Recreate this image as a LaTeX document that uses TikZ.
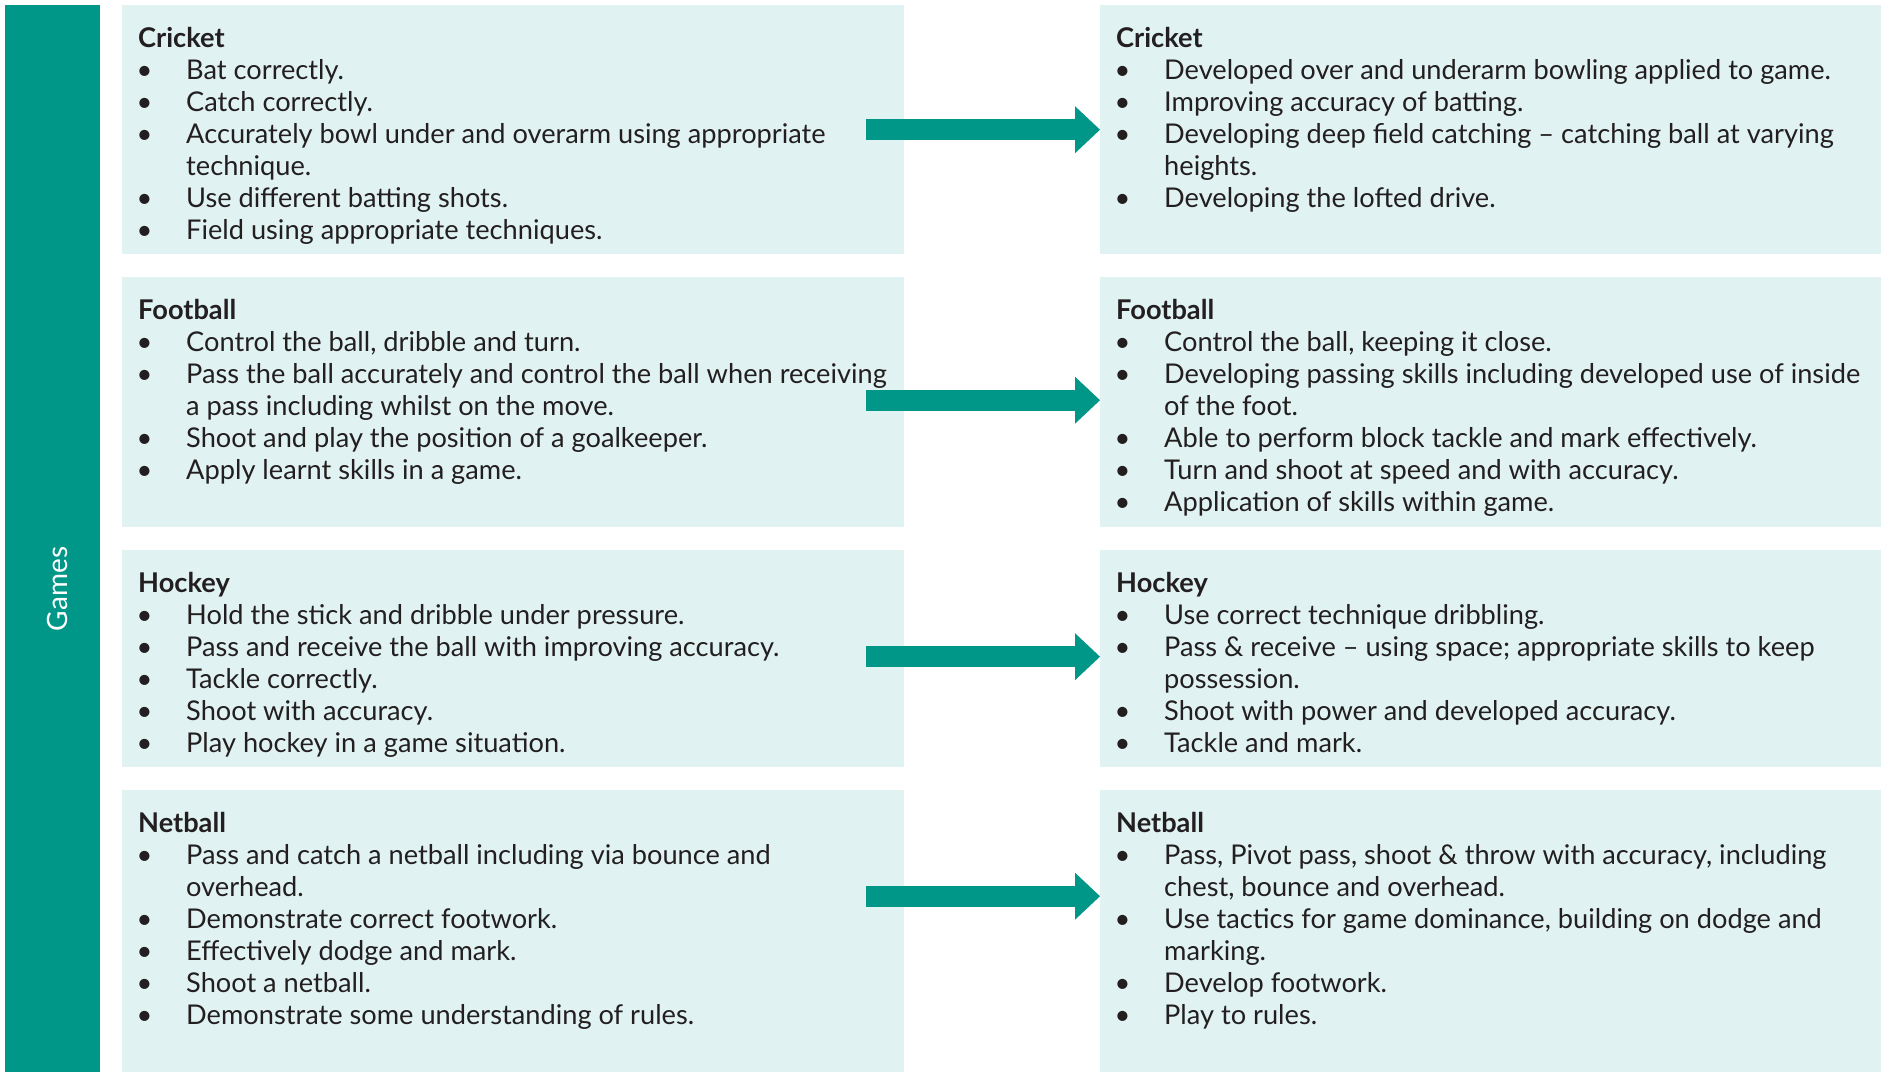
\documentclass[tikz,border=0pt]{standalone}
\usepackage{fontspec}
\setmainfont{Lato}
\usetikzlibrary{arrows.meta}
\definecolor{tealc}{HTML}{009688}
\definecolor{pale}{HTML}{E0F2F1}
\definecolor{ink}{HTML}{231F20}
\newcommand\bu{\makebox[48pt][l]{\hspace{-1.5pt}\textbullet}}
\newcommand\ind{\hspace*{48pt}}
\newcommand\fst{\rule{0pt}{24pt}}
\begin{document}
\begin{tikzpicture}[x=1pt,y=-1pt,
  box/.style={fill=pale,draw=none,anchor=north west,inner sep=0pt},
  txt/.style={anchor=north west,inner sep=0pt,align=left,text=ink,font=\fontsize{27.2}{32}\selectfont},
  flow/.style={draw=tealc,line width=21pt,-{Triangle[length=25pt,width=47pt,line width=0pt]}}]
\useasboundingbox (0,0) rectangle (1881,1072);
% side bar
\node[fill=tealc,anchor=north west,inner sep=0pt,minimum width=95pt,minimum height=1067pt] (bar) at (5,5) {};
\node[rotate=90,text=white,font=\fontsize{28}{32}\selectfont,inner sep=0pt] (games) at (57,589) {Games};
% boxes
\node[box,minimum width=782pt,minimum height=249pt] (L1) at (122,5) {};
\node[box,minimum width=781pt,minimum height=249pt] (R1) at (1100,5) {};
\node[box,minimum width=782pt,minimum height=250pt] (L2) at (122,277) {};
\node[box,minimum width=781pt,minimum height=250pt] (R2) at (1100,277) {};
\node[box,minimum width=782pt,minimum height=217pt] (L3) at (122,550) {};
\node[box,minimum width=781pt,minimum height=217pt] (R3) at (1100,550) {};
\node[box,minimum width=782pt,minimum height=282pt] (L4) at (122,790) {};
\node[box,minimum width=781pt,minimum height=282pt] (R4) at (1100,790) {};
% texts
\node[txt] (tL1) at (138,23) {\fst\textbf{Cricket}\\
\bu Bat correctly.\\
\bu Catch correctly.\\
\bu Accurately bowl under and overarm using appropriate\\
\ind technique.\\
\bu Use different batting shots.\\
\bu Field using appropriate techniques.};
\node[txt] (tR1) at (1116,23) {\fst\textbf{Cricket}\\
\bu Developed over and underarm bowling applied to game.\\
\bu Improving accuracy of batting.\\
\bu Developing deep field catching – catching ball at varying\\
\ind heights.\\
\bu Developing the lofted drive.};
\node[txt] (tL2) at (138,295) {\fst\textbf{Football}\\
\bu Control the ball, dribble and turn.\\
\bu Pass the ball accurately and control the ball when receiving\\
\ind a pass including whilst on the move.\\
\bu Shoot and play the position of a goalkeeper.\\
\bu Apply learnt skills in a game.};
\node[txt] (tR2) at (1116,295) {\fst\textbf{Football}\\
\bu Control the ball, keeping it close.\\
\bu Developing passing skills including developed use of inside\\
\ind of the foot.\\
\bu Able to perform block tackle and mark effectively.\\
\bu Turn and shoot at speed and with accuracy.\\
\bu Application of skills within game.};
\node[txt] (tL3) at (138,568) {\fst\textbf{Hockey}\\
\bu Hold the stick and dribble under pressure.\\
\bu Pass and receive the ball with improving accuracy.\\
\bu Tackle correctly.\\
\bu Shoot with accuracy.\\
\bu Play hockey in a game situation.};
\node[txt] (tR3) at (1116,568) {\fst\textbf{Hockey}\\
\bu Use correct technique dribbling.\\
\bu Pass \& receive – using space; appropriate skills to keep\\
\ind possession.\\
\bu Shoot with power and developed accuracy.\\
\bu Tackle and mark.};
\node[txt] (tL4) at (138,808) {\fst\textbf{Netball}\\
\bu Pass and catch a netball including via bounce and\\
\ind overhead.\\
\bu Demonstrate correct footwork.\\
\bu Effectively dodge and mark.\\
\bu Shoot a netball.\\
\bu Demonstrate some understanding of rules.};
\node[txt] (tR4) at (1116,808) {\fst\textbf{Netball}\\
\bu Pass, Pivot pass, shoot \& throw with accuracy, including\\
\ind chest, bounce and overhead.\\
\bu Use tactics for game dominance, building on dodge and\\
\ind marking.\\
\bu Develop footwork.\\
\bu Play to rules.};
% arrows
\draw[flow] ([xshift=-38pt]L1.east) -- (R1.west);
\draw[flow] ([xshift=-38pt,yshift=2pt]L2.east) -- ([yshift=2pt]R2.west);
\draw[flow] ([xshift=-38pt,yshift=2pt]L3.east) -- ([yshift=2pt]R3.west);
\draw[flow] ([xshift=-38pt,yshift=35pt]L4.east) -- ([yshift=35pt]R4.west);
\end{tikzpicture}
\end{document}
